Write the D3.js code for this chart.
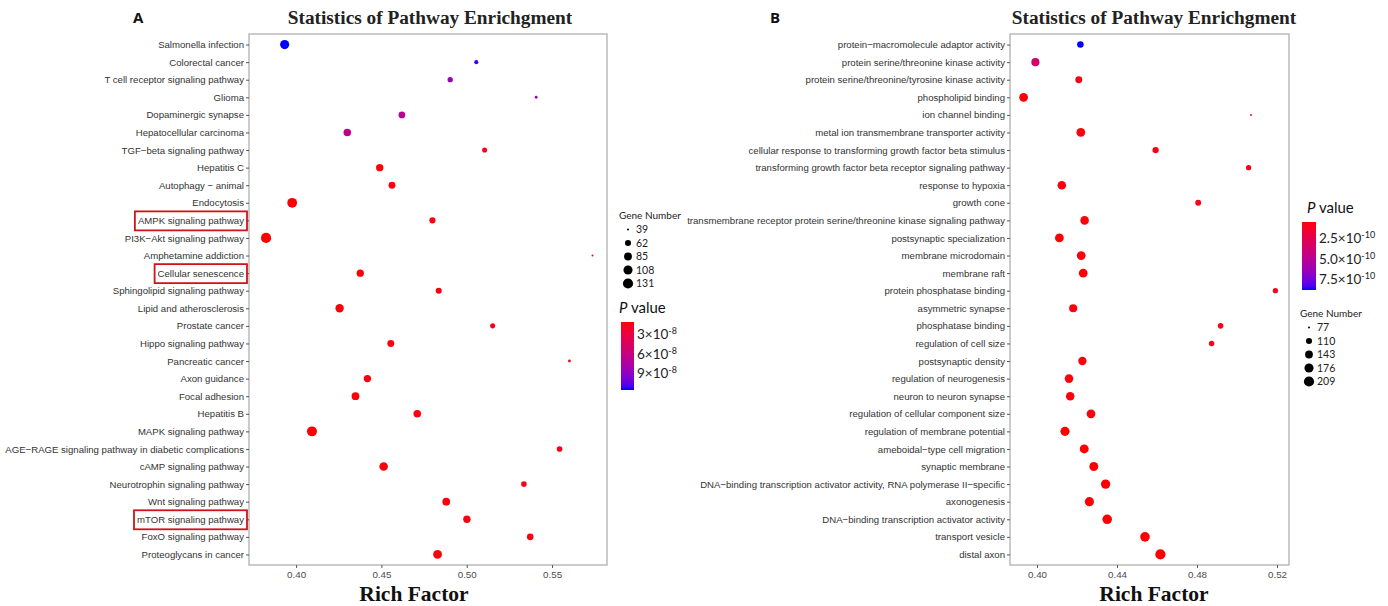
<!DOCTYPE html>
<html>
<head>
<meta charset="utf-8">
<script src="https://cdn.jsdelivr.net/npm/d3@7"></script>
<style>
  body { margin: 0; background: #fff; }
  svg { display: block; }
</style>
</head>
<body>
<script>
// ---- panel A: KEGG pathways ----
var pathwaysA = ['Salmonella infection', 'Colorectal cancer', 'T cell receptor signaling pathway', 'Glioma',
    'Dopaminergic synapse', 'Hepatocellular carcinoma', 'TGF\u2212beta signaling pathway', 'Hepatitis C',
    'Autophagy \u2212 animal', 'Endocytosis', 'AMPK signaling pathway', 'PI3K\u2212Akt signaling pathway',
    'Amphetamine addiction', 'Cellular senescence', 'Sphingolipid signaling pathway', 'Lipid and atherosclerosis',
    'Prostate cancer', 'Hippo signaling pathway', 'Pancreatic cancer', 'Axon guidance', 'Focal adhesion',
    'Hepatitis B', 'MAPK signaling pathway', 'AGE\u2212RAGE signaling pathway in diabetic complications',
    'cAMP signaling pathway', 'Neurotrophin signaling pathway', 'Wnt signaling pathway', 'mTOR signaling pathway',
    'FoxO signaling pathway', 'Proteoglycans in cancer'];
var richA = [0.3933, 0.5056, 0.4903, 0.5407, 0.4620, 0.4300, 0.5105, 0.4490, 0.4562, 0.3977,
    0.4799, 0.3824, 0.5737, 0.4376, 0.4836, 0.4255, 0.5152, 0.4555, 0.5602, 0.4418,
    0.4348, 0.4710, 0.4093, 0.5544, 0.4513, 0.5335, 0.4880, 0.5001, 0.5372, 0.4829];
var genesA = [109, 45, 54, 40, 69, 81, 52, 78, 72, 122,
    62, 131, 39, 78, 62, 94, 52, 72, 40, 78,
    84, 81, 126, 57, 98, 57, 84, 78, 69, 102];
var pvalA = [1.16e-7, 1.12e-7, 8.6e-8, 8.3e-8, 7.0e-8, 6.4e-8, 1.9e-8, 1.3e-8, 1.4e-8, 1.2e-8,
    1.5e-8, 1.15e-8, 1.6e-8, 1.3e-8, 1.5e-8, 1.3e-8, 1.6e-8, 1.4e-8, 1.7e-8, 1.4e-8,
    1.3e-8, 1.4e-8, 1.2e-8, 1.6e-8, 1.3e-8, 1.6e-8, 1.4e-8, 1.4e-8, 1.5e-8, 1.3e-8];
var highlightA = ['AMPK signaling pathway', 'Cellular senescence', 'mTOR signaling pathway'];
var ticksA = [0.40, 0.45, 0.50, 0.55];
var geneBreaksA = [39, 62, 85, 108, 131];
var pBreaksA = [3e-8, 6e-8, 9e-8];
var pLabelsA = ['3', '6', '9'];
var pExpA = '-8';

// ---- panel B: GO terms ----
var termsB = ['protein\u2212macromolecule adaptor activity', 'protein serine/threonine kinase activity',
    'protein serine/threonine/tyrosine kinase activity', 'phospholipid binding', 'ion channel binding',
    'metal ion transmembrane transporter activity', 'cellular response to transforming growth factor beta stimulus',
    'transforming growth factor beta receptor signaling pathway', 'response to hypoxia', 'growth cone',
    'transmembrane receptor protein serine/threonine kinase signaling pathway', 'postsynaptic specialization',
    'membrane microdomain', 'membrane raft', 'protein phosphatase binding', 'asymmetric synapse',
    'phosphatase binding', 'regulation of cell size', 'postsynaptic density', 'regulation of neurogenesis',
    'neuron to neuron synapse', 'regulation of cellular component size', 'regulation of membrane potential',
    'ameboidal\u2212type cell migration', 'synaptic membrane',
    'DNA\u2212binding transcription activator activity, RNA polymerase II\u2212specific', 'axonogenesis',
    'DNA\u2212binding transcription activator activity', 'transport vesicle', 'distal axon'];
var richB = [0.4217, 0.3992, 0.4209, 0.3933, 0.5070, 0.4219, 0.4593, 0.5058, 0.4124, 0.4806,
    0.4238, 0.4112, 0.4221, 0.4231, 0.5192, 0.4181, 0.4918, 0.4873, 0.4227, 0.4160,
    0.4166, 0.4270, 0.4140, 0.4236, 0.4284, 0.4343, 0.4262, 0.4351, 0.4540, 0.4617];
var genesB = [117, 151, 125, 167, 77, 167, 113, 98, 161, 107,
    161, 167, 167, 167, 98, 151, 103, 101, 156, 161,
    161, 167, 178, 172, 172, 184, 178, 190, 190, 209];
var pvalB = [8.84e-10, 3.8e-10, 0.9e-10, 0.6e-10, 1.1e-10, 0.7e-10, 0.9e-10, 1.0e-10, 0.7e-10, 1.0e-10,
    0.7e-10, 0.6e-10, 0.7e-10, 0.7e-10, 1.1e-10, 0.8e-10, 1.0e-10, 1.0e-10, 0.7e-10, 0.7e-10,
    0.7e-10, 0.7e-10, 0.6e-10, 0.6e-10, 0.6e-10, 0.6e-10, 0.6e-10, 0.6e-10, 0.6e-10, 0.55e-10];
var ticksB = [0.40, 0.44, 0.48, 0.52];
var geneBreaksB = [77, 110, 143, 176, 209];
var pBreaksB = [2.5e-10, 5.0e-10, 7.5e-10];
var pLabelsB = ['2.5', '5.0', '7.5'];
var pExpB = '-10';

var svg = d3.select('body').append('svg')
    .attr('width', 1388)
    .attr('height', 606);

var defs = svg.append('defs');

var drawPanel = function (cfg) {
    var data = cfg.names.map(function (n, i) {
        return { name: n, rich: cfg.rich[i], genes: cfg.genes[i], p: cfg.pvals[i] };
    });

    var xScale = d3.scaleLinear().domain(cfg.xDomain).range([cfg.x0, cfg.x1]);
    var yScale = d3.scalePoint().domain(cfg.names).range([cfg.y0, cfg.y1]).padding(0.6);

    // size like ggplot's area scale: rescale, then sqrt
    var geneT = d3.scaleLinear().domain(d3.extent(cfg.genes)).range([0, 1]);
    var rScale = d3.scaleSqrt().domain([0, 1]).range([1, 5.1]);
    var radius = function (g) { return rScale(geneT(g)); };

    var pExtent = d3.extent(cfg.pvals);
    var colorScale = d3.scaleLinear().domain(pExtent).range(['#ff0000', '#0000ff'])
        .interpolate(d3.interpolateLab);

    var g = svg.append('g');

    // panel border
    g.append('rect')
        .attr('x', cfg.x0).attr('y', cfg.y0)
        .attr('width', cfg.x1 - cfg.x0).attr('height', cfg.y1 - cfg.y0)
        .attr('fill', '#fff')
        .attr('stroke', '#b0b0b0')
        .attr('stroke-width', 1.3);

    // y axis with the category names
    var yAxis = g.append('g')
        .attr('transform', 'translate(' + cfg.x0 + ',0)')
        .call(d3.axisLeft(yScale).tickSize(3).tickPadding(2));
    yAxis.select('.domain').remove();
    yAxis.selectAll('line').attr('stroke', '#555');
    yAxis.selectAll('text')
        .attr('fill', '#333')
        .style('font-family', '"Liberation Sans", Arial, sans-serif')
        .style('font-size', '9.6px');

    // x axis
    var xAxis = g.append('g')
        .attr('transform', 'translate(0,' + cfg.y1 + ')')
        .call(d3.axisBottom(xScale).tickValues(cfg.ticks).tickFormat(d3.format('.2f')).tickSize(3).tickPadding(3));
    xAxis.select('.domain').remove();
    xAxis.selectAll('line').attr('stroke', '#555');
    xAxis.selectAll('text')
        .attr('fill', '#4d4d4d')
        .style('font-family', '"Liberation Sans", Arial, sans-serif')
        .style('font-size', '9.8px');

    // red boxes round the highlighted names
    if (cfg.highlight) {
        yAxis.selectAll('.tick')
            .filter(function (d) { return cfg.highlight.indexOf(d) >= 0; })
            .each(function () {
                var bb = d3.select(this).select('text').node().getBBox();
                d3.select(this).append('rect')
                    .attr('x', bb.x - 3)
                    .attr('y', -9.5)
                    .attr('width', -2 - (bb.x - 3))
                    .attr('height', 19)
                    .attr('fill', 'none')
                    .attr('stroke', '#d0131b')
                    .attr('stroke-width', 1.8);
            });
    }

    // the dots
    g.selectAll('circle.dot').data(data)
        .enter().append('circle')
        .attr('class', 'dot')
        .attr('cx', function (d) { return xScale(d.rich); })
        .attr('cy', function (d) { return yScale(d.name); })
        .attr('r', function (d) { return radius(d.genes); })
        .attr('fill', function (d) { return colorScale(d.p); });

    // titles
    svg.append('text')
        .attr('x', cfg.titleX).attr('y', 24)
        .attr('text-anchor', 'middle')
        .style('font-family', '"Liberation Serif", "Times New Roman", serif')
        .style('font-weight', 'bold')
        .style('font-size', '19.3px')
        .attr('fill', '#222')
        .text('Statistics of Pathway Enrichgment');

    svg.append('text')
        .attr('x', cfg.richX).attr('y', 601)
        .attr('text-anchor', 'middle')
        .style('font-family', '"Liberation Serif", "Times New Roman", serif')
        .style('font-weight', 'bold')
        .style('font-size', '21.5px')
        .attr('fill', '#111')
        .text('Rich Factor');

    svg.append('text')
        .attr('x', cfg.letterX).attr('y', 23)
        .style('font-family', '"Open Sans", sans-serif')
        .style('font-weight', 'bold')
        .style('font-size', '15px')
        .attr('fill', '#111')
        .text(cfg.letter);

    // gene number legend
    var gl = svg.append('g');
    gl.append('text')
        .attr('x', cfg.geneLeg.x).attr('y', cfg.geneLeg.y)
        .style('font-family', 'Lato, sans-serif')
        .style('font-size', '10px')
        .attr('fill', '#222')
        .text('Gene Number');
    var rows = gl.selectAll('g').data(cfg.geneBreaks).enter().append('g')
        .attr('transform', function (d, i) {
            return 'translate(0,' + (cfg.geneLeg.y + 10.5 + i * 13.5) + ')';
        });
    rows.append('circle')
        .attr('cx', cfg.geneLeg.x + 9)
        .attr('r', function (d) { return radius(d); })
        .attr('fill', '#000');
    rows.append('text')
        .attr('x', cfg.geneLeg.x + 17)
        .attr('dy', '0.35em')
        .style('font-family', 'Lato, sans-serif')
        .style('font-size', '10.5px')
        .attr('fill', '#222')
        .text(function (d) { return d; });

    // p value colour bar
    var pl = svg.append('g');
    var pt = pl.append('text')
        .attr('x', cfg.pLeg.x).attr('y', cfg.pLeg.y)
        .style('font-family', 'Lato, sans-serif')
        .style('font-size', '15px')
        .attr('fill', '#111');
    pt.append('tspan').style('font-style', 'italic').text('P');
    pt.append('tspan').text(' value');

    var gradId = 'grad' + cfg.letter;
    var grad = defs.append('linearGradient')
        .attr('id', gradId)
        .attr('x1', 0).attr('y1', 0).attr('x2', 0).attr('y2', 1);
    d3.range(0, 1.0001, 0.05).forEach(function (t) {
        grad.append('stop')
            .attr('offset', t)
            .attr('stop-color', colorScale(pExtent[0] + t * (pExtent[1] - pExtent[0])));
    });

    var barY = d3.scaleLinear().domain(pExtent).range([cfg.pLeg.barTop, cfg.pLeg.barBottom]);
    pl.append('rect')
        .attr('x', cfg.pLeg.barX).attr('y', cfg.pLeg.barTop)
        .attr('width', cfg.pLeg.barW)
        .attr('height', cfg.pLeg.barBottom - cfg.pLeg.barTop)
        .attr('fill', 'url(#' + gradId + ')');

    var labs = pl.selectAll('text.plab').data(cfg.pBreaks).enter().append('text')
        .attr('class', 'plab')
        .attr('x', cfg.pLeg.barX + cfg.pLeg.barW + 3)
        .attr('y', function (d) { return barY(d) + 5; })
        .style('font-family', 'Lato, sans-serif')
        .style('font-size', '13.5px')
        .attr('fill', '#222');
    labs.append('tspan').text(function (d, i) { return cfg.pLabels[i] + '\u00d710'; });
    labs.append('tspan')
        .attr('dy', -5)
        .style('font-size', '9px')
        .text(cfg.pExp);
};

drawPanel({
    letter: 'A', letterX: 133,
    names: pathwaysA, rich: richA, genes: genesA, pvals: pvalA, highlight: highlightA,
    x0: 249, x1: 607, y0: 34, y1: 565,
    xDomain: [0.3724, 0.5822], ticks: ticksA,
    titleX: 430, richX: 414,
    geneBreaks: geneBreaksA, pBreaks: pBreaksA, pLabels: pLabelsA, pExp: pExpA,
    geneLeg: { x: 619, y: 219 },
    pLeg: { x: 619, y: 313, barX: 621, barW: 13, barTop: 322, barBottom: 390 }
});

drawPanel({
    letter: 'B', letterX: 770,
    names: termsB, rich: richB, genes: genesB, pvals: pvalB, highlight: null,
    x0: 1010, x1: 1289, y0: 34, y1: 565,
    xDomain: [0.3865, 0.526], ticks: ticksB,
    titleX: 1154, richX: 1154,
    geneBreaks: geneBreaksB, pBreaks: pBreaksB, pLabels: pLabelsB, pExp: pExpB,
    geneLeg: { x: 1300, y: 317 },
    pLeg: { x: 1307, y: 213, barX: 1302, barW: 14, barTop: 222, barBottom: 290 }
});
</script>
</body>
</html>
